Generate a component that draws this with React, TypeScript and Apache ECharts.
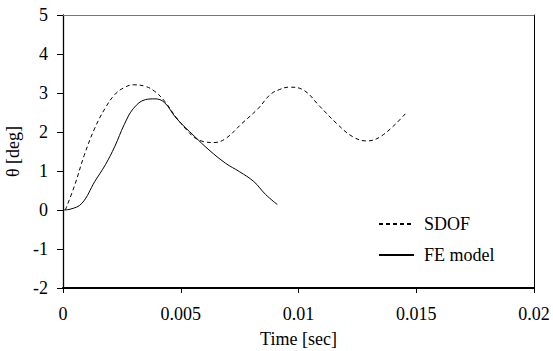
import { useEffect, useRef } from "react";
import * as echarts from "echarts";

const seriesNames = ["SDOF", "FE model"];

const sdofTime = [0.0001, 0.0005, 0.0009, 0.00135, 0.0018, 0.0022, 0.0026, 0.003, 0.0035, 0.0039, 0.0043, 0.0048, 0.0053, 0.0056, 0.006, 0.0064, 0.0069, 0.0076, 0.0083, 0.0088, 0.0092, 0.0096, 0.0102, 0.0109, 0.0116, 0.0123, 0.0129, 0.0136, 0.0146];
const sdofTheta = [0.0, 0.64, 1.4, 2.1, 2.62, 2.96, 3.14, 3.21, 3.17, 3.04, 2.8, 2.38, 2.02, 1.85, 1.75, 1.73, 1.83, 2.22, 2.61, 2.96, 3.09, 3.15, 3.08, 2.66, 2.23, 1.88, 1.77, 1.93, 2.51];

const feTime = [0, 0.0003, 0.0008, 0.00135, 0.0018, 0.0022, 0.0026, 0.003, 0.0035, 0.0039, 0.0043, 0.0048, 0.0056, 0.0062, 0.0069, 0.0075, 0.0081, 0.0086, 0.0091];
const feTheta = [0, 0.02, 0.17, 0.73, 1.16, 1.63, 2.19, 2.61, 2.83, 2.85, 2.76, 2.36, 1.88, 1.54, 1.2, 0.98, 0.73, 0.4, 0.14];

const xMin = 0;
const xMax = 0.02;
const xStep = 0.005;
const yMin = -2;
const yMax = 5;
const yStep = 1;

const xTitle = "Time [sec]";
const yTitle = "θ [deg]";

const FONT = "Times New Roman, Liberation Serif, serif";

export default function App() {
  const ref = useRef<HTMLDivElement>(null);

  useEffect(() => {
    if (!ref.current) return;
    const chart = echarts.init(ref.current, null, { renderer: "svg" });
    const zip = (t: number[], v: number[]) => t.map((x, i) => [x, v[i]]);
    const txt = { fontFamily: FONT, fontSize: 18, color: "#000", fontWeight: "normal" as const };
    chart.setOption({
      animation: false,
      backgroundColor: "#ffffff",
      textStyle: { fontFamily: FONT, color: "#000" },
      grid: {
        left: 63,
        top: 15,
        right: 19,
        bottom: 63,
        containLabel: false,
        outerBoundsMode: "none",
      },
      legend: {
        orient: "vertical",
        left: 378,
        top: 215,
        padding: 0,
        itemWidth: 35,
        itemHeight: 14,
        itemGap: 13,
        data: seriesNames,
        itemStyle: { opacity: 0 },
        textStyle: { ...txt, lineHeight: 18, padding: [0, 0, 0, 5] },
      },
      xAxis: [
        {
          type: "value",
          min: xMin,
          max: xMax,
          interval: xStep,
          position: "bottom",
          name: xTitle,
          nameLocation: "middle",
          nameGap: 42,
          nameTextStyle: txt,
          axisLine: { show: true, onZero: false, lineStyle: { color: "#000", width: 2 } },
          axisTick: { show: true, length: 5, lineStyle: { color: "#000", width: 1 } },
          axisLabel: {
            ...txt,
            margin: 17,
            formatter: (v: number) => String(+v.toFixed(3)),
          },
          splitLine: { show: false },
        },
        {
          type: "value",
          min: xMin,
          max: xMax,
          interval: xStep,
          position: "top",
          axisLine: { show: true, onZero: false, lineStyle: { color: "#777", width: 1 } },
          axisTick: { show: false },
          axisLabel: { show: false },
          splitLine: { show: false },
        },
      ],
      yAxis: [
        {
          type: "value",
          min: yMin,
          max: yMax,
          interval: yStep,
          position: "left",
          name: yTitle,
          nameLocation: "middle",
          nameGap: 33,
          nameTextStyle: txt,
          axisLine: { show: true, onZero: false, lineStyle: { color: "#000", width: 1.3 } },
          axisTick: { show: true, length: 6, lineStyle: { color: "#000", width: 1 } },
          axisLabel: { ...txt, margin: 15 },
          splitLine: { show: false },
        },
        {
          type: "value",
          min: yMin,
          max: yMax,
          interval: yStep,
          position: "right",
          axisLine: { show: true, onZero: false, lineStyle: { color: "#000", width: 1 } },
          axisTick: { show: false },
          axisLabel: { show: false },
          splitLine: { show: false },
        },
      ],
      series: [
        {
          name: seriesNames[0],
          type: "line",
          data: zip(sdofTime, sdofTheta),
          smooth: 0.4,
          symbol: "none",
          showSymbol: false,
          lineStyle: { color: "#000", width: 1, type: [4, 3] },
          itemStyle: { color: "#000" },
        },
        {
          name: seriesNames[1],
          type: "line",
          data: zip(feTime, feTheta),
          smooth: 0.4,
          symbol: "none",
          showSymbol: false,
          lineStyle: { color: "#000", width: 1, type: "solid" },
          itemStyle: { color: "#000" },
        },
      ],
    });
    return () => chart.dispose();
  }, []);

  return (
    <div
      ref={ref}
      style={{ position: "fixed", left: 0, top: 0, width: 553, height: 351, background: "#fff" }}
    />
  );
}
